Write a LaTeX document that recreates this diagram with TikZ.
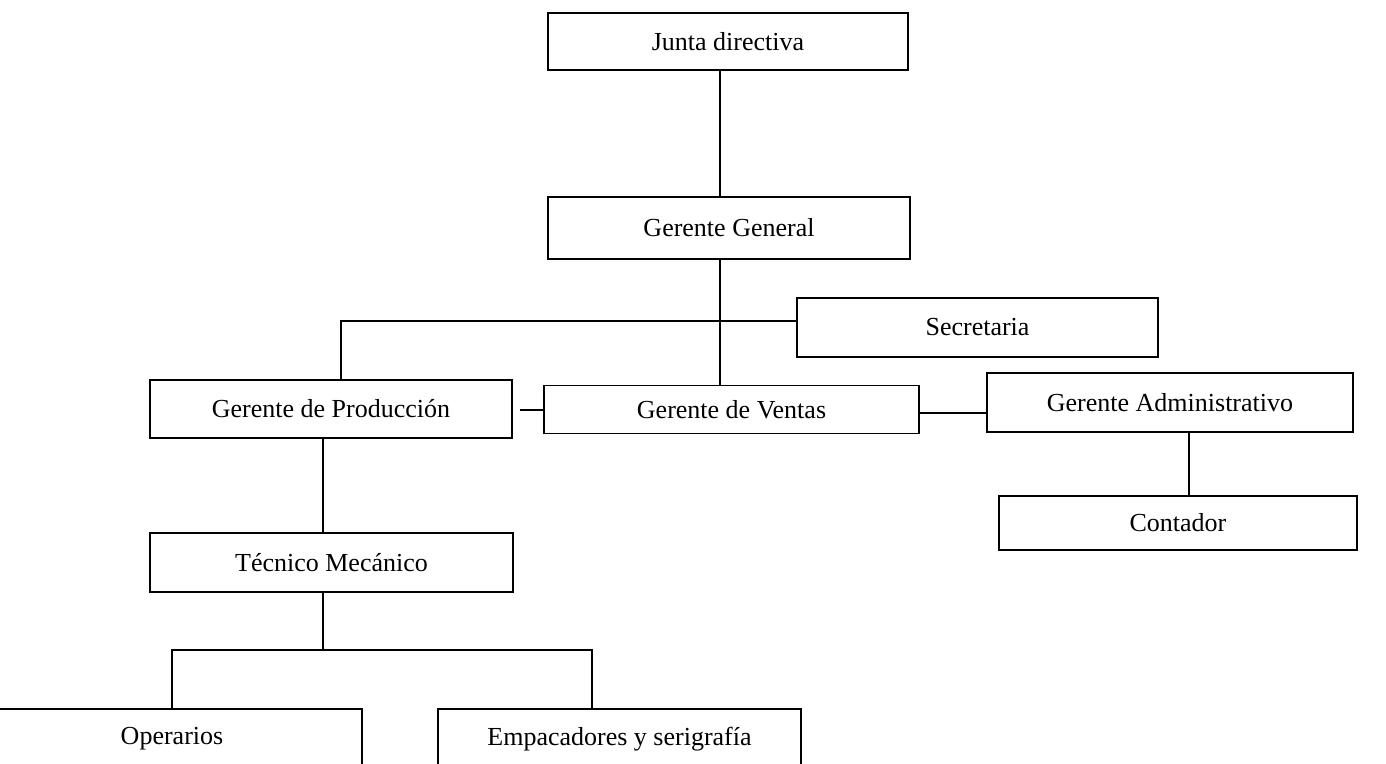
\documentclass[tikz,border=0pt]{standalone}
\usepackage{fontspec}
\setmainfont{Liberation Serif}
\tikzset{cargo/.style={draw,line width=0.7pt,inner sep=0pt,font=\fontsize{13}{15}\selectfont}}
\begin{document}
\begin{tikzpicture}[x=0.5pt,y=-0.5pt,line width=0.7pt]
\useasboundingbox (0,0) rectangle (1386,764);

\node[cargo,minimum width=180pt,minimum height=28.5pt] (junta) at (728,41.5) {Junta directiva};
\node[cargo,minimum width=181pt,minimum height=31pt] (gerente) at (729,228) {Gerente General};
\node[cargo,minimum width=180.5pt,minimum height=29.5pt] (secretaria) at (977.5,327.5) {Secretaria};
\node[cargo,minimum width=181pt,minimum height=29pt] (produccion) at (331,409) {Gerente de Producción};
\node[cargo,minimum width=187.5pt,minimum height=24pt] (ventas) at (731.5,409.5) {Gerente de Ventas};
\node[cargo,minimum width=183pt,minimum height=29.5pt] (admin) at (1170,402.5) {Gerente Administrativo};
\node[cargo,minimum width=179pt,minimum height=27pt] (contador) at (1178,523) {Contador};
\node[cargo,minimum width=181.5pt,minimum height=29.5pt] (tecnico) at (331.5,562.5) {Técnico Mecánico};
\node[cargo,minimum width=190pt,minimum height=30pt] (operarios) at (172,739) {Operarios};
\node[cargo,minimum width=181.5pt,minimum height=30pt] (empaque) at (619.5,739) {Empacadores y serigrafía};

\coordinate (tronco) at (720,0);
\coordinate (rama) at (341,321);
\coordinate (corto) at (520,410);
\coordinate (lado) at (950,413);
\coordinate (cont) at (1189,0);
\coordinate (baja) at (323,650);
\coordinate (izq) at (172,650);
\coordinate (der) at (592,650);

\draw (junta.south -| tronco) -- (gerente.north -| tronco);
\draw (gerente.south -| tronco) -- (ventas.north -| tronco);
\draw (produccion.north -| rama) -- (rama) -- (secretaria.west |- rama);
\draw (corto) -- (ventas.west |- corto);
\draw (ventas.east |- lado) -- (admin.west |- lado);
\draw (admin.south -| cont) -- (contador.north -| cont);
\draw (produccion.south -| baja) -- (tecnico.north -| baja);
\draw (tecnico.south -| baja) -- (baja);
\draw (operarios.north -| izq) -- (izq) -- (der) -- (empaque.north -| der);

\end{tikzpicture}
\end{document}
